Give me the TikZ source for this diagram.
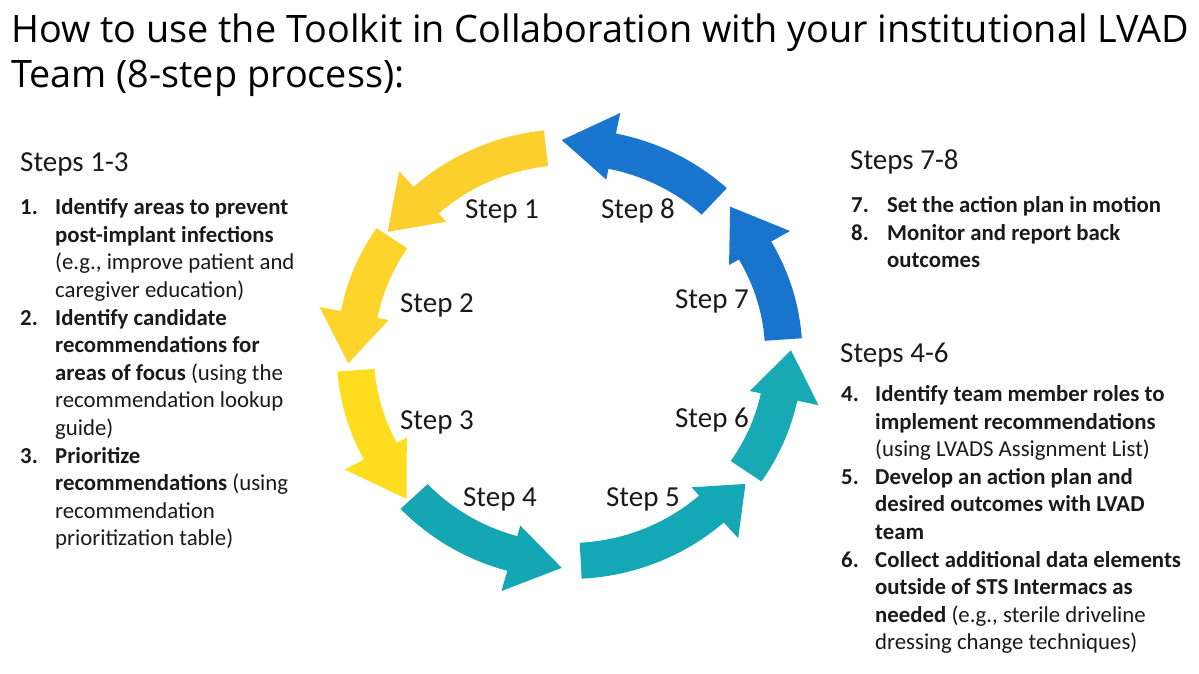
\documentclass[tikz,border=0pt]{standalone}
\usepackage{fontspec}
\setmainfont{Carlito}
\newfontfamily\titlefont{Open Sans}
\definecolor{gold1}{HTML}{FBD02C}
\definecolor{gold2}{HTML}{FCD42A}
\definecolor{gold3}{HTML}{FEDC1E}
\definecolor{teal1}{HTML}{15A6B4}
\definecolor{teal2}{HTML}{14A8B6}
\definecolor{teal3}{HTML}{17AAB4}
\definecolor{blue1}{HTML}{1874CD}
\definecolor{blue2}{HTML}{1A75CE}
\definecolor{txt}{HTML}{1A1A1A}
\newcommand\circarrow[4]{%
  \fill[#4] plot[domain=#1:#2,samples=40,variable=\t] (\t:225)
    -- (#2:246) -- (#3:214) -- (#2:178)
    -- plot[domain=#2:#1,samples=40,variable=\t] (\t:189) -- cycle;}
\tikzset{
  titletxt/.style={inner sep=0pt, align=left, text=black, font=\titlefont\fontsize{37.8}{45}\selectfont},
  headtxt/.style={inner sep=0pt, text=txt, font=\fontsize{29}{35}\selectfont},
  listtxt/.style={inner sep=0pt, align=left, text=txt, font=\fontsize{22.8}{27.6}\selectfont},
  steplabel/.style={inner sep=0pt, text=txt, font=\fontsize{29}{35}\selectfont, anchor=base}
}
\begin{document}
\begin{tikzpicture}[x=1pt,y=1pt]
\useasboundingbox (0,0) rectangle (1199,674);
\fill[white] (0,0) rectangle (1199,674);

% title (anchor = baseline of last line)
\node[titletxt, anchor=base west] (title) at (11,586)
  {How to use the Toolkit in Collaboration with your institutional LVAD\\Team (8-step process):};

% circular arrows
\begin{scope}[shift={(569.5,320)}, xscale=1.035]
  \circarrow{96.3}{132}{145.2}{gold1}
  \circarrow{146}{169}{182.5}{gold2}
  \circarrow{184.5}{208}{222.6}{gold3}
  \circarrow{223.5}{254.5}{268}{teal1}
  \circarrow{273}{311.5}{322.6}{teal2}
  \circarrow{325.5}{348}{361}{teal3}
  \circarrow{4}{30}{43.5}{blue1}
  \circarrow{47.5}{78.5}{92}{blue2}
\end{scope}

% step labels
\node[steplabel] (s1) at (502,455) {Step 1};
\node[steplabel] (s8) at (638,455) {Step 8};
\node[steplabel] (s2) at (437,361) {Step 2};
\node[steplabel] (s7) at (712,365) {Step 7};
\node[steplabel] (s3) at (437,244) {Step 3};
\node[steplabel] (s6) at (712,246) {Step 6};
\node[steplabel] (s4) at (500,167) {Step 4};
\node[steplabel] (s5) at (643,167) {Step 5};

% left block (list anchored at baseline of its last line)
\node[headtxt, anchor=base west] (h13) at (20,502) {Steps 1-3};
\node[listtxt, anchor=base west] (l13) at (20,128) {%
\makebox[35pt][l]{\textbf{1.}}\textbf{Identify areas to prevent}\\
\hspace*{35pt}\textbf{post-implant infections}\\
\hspace*{35pt}(e.g., improve patient and\\
\hspace*{35pt}caregiver education)\\
\makebox[35pt][l]{\textbf{2.}}\textbf{Identify candidate}\\
\hspace*{35pt}\textbf{recommendations for}\\
\hspace*{35pt}\textbf{areas of focus} (using the\\
\hspace*{35pt}recommendation lookup\\
\hspace*{35pt}guide)\\
\makebox[35pt][l]{\textbf{3.}}\textbf{Prioritize}\\
\hspace*{35pt}\textbf{recommendations} (using\\
\hspace*{35pt}recommendation\\
\hspace*{35pt}prioritization table)};

% right block 7-8
\node[headtxt, anchor=base west] (h78) at (850,504) {Steps 7-8};
\node[listtxt, anchor=base west] (l78) at (851,406) {%
\makebox[36pt][l]{\textbf{7.}}\textbf{Set the action plan in motion}\\
\makebox[36pt][l]{\textbf{8.}}\textbf{Monitor and report back}\\
\hspace*{36pt}\textbf{outcomes}};

% right block 4-6
\node[headtxt, anchor=base west] (h46) at (840,311) {Steps 4-6};
\node[listtxt, anchor=base west] (l46) at (841,24) {%
\makebox[34pt][l]{\textbf{4.}}\textbf{Identify team member roles to}\\
\hspace*{34pt}\textbf{implement recommendations}\\
\hspace*{34pt}(using LVADS Assignment List)\\
\makebox[34pt][l]{\textbf{5.}}\textbf{Develop an action plan and}\\
\hspace*{34pt}\textbf{desired outcomes with LVAD}\\
\hspace*{34pt}\textbf{team}\\
\makebox[34pt][l]{\textbf{6.}}\textbf{Collect additional data elements}\\
\hspace*{34pt}\textbf{outside of STS Intermacs as}\\
\hspace*{34pt}\textbf{needed} (e.g., sterile driveline\\
\hspace*{34pt}dressing change techniques)};
\end{tikzpicture}
\end{document}
